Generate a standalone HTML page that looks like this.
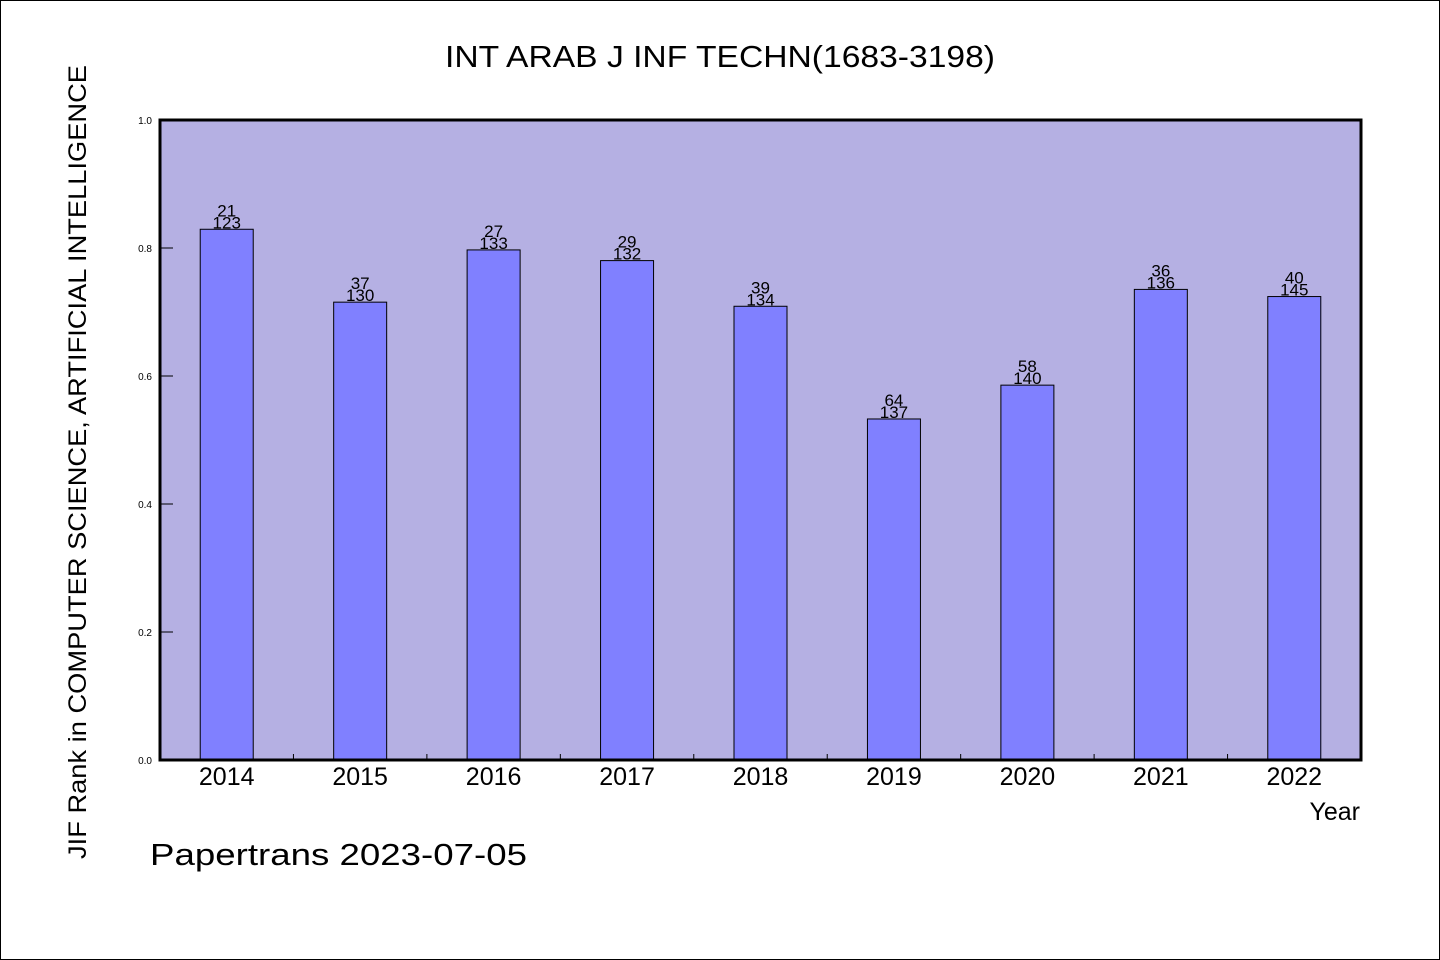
<!DOCTYPE html>
<html><head><meta charset="utf-8"><style>
html,body{margin:0;padding:0;background:#fff}
svg{display:block}
text{font-family:"WenQuanYi Zen Hei","Liberation Sans",sans-serif;fill:#000}
</style></head><body>
<svg width="1440" height="960" xmlns="http://www.w3.org/2000/svg">
<rect x="0.5" y="0.5" width="1439" height="959" fill="#fff" stroke="#000"/>
<text x="720" y="67" font-size="31" text-anchor="middle" textLength="550" lengthAdjust="spacingAndGlyphs">INT ARAB J INF TECHN(1683-3198)</text>
<rect x="160" y="120" width="1201" height="640" fill="#b5b0e3"/>
<g id="ticks"></g>
<g id="bars"></g>
<rect x="160" y="120" width="1201" height="640" fill="none" stroke="#000" stroke-width="3"/>
<text transform="translate(86,462) rotate(-90)" font-size="25" text-anchor="middle" textLength="794" lengthAdjust="spacingAndGlyphs">JIF Rank in COMPUTER SCIENCE, ARTIFICIAL INTELLIGENCE</text>
<text x="1360" y="820" font-size="25" text-anchor="end">Year</text>
<text x="150" y="865" font-size="31" textLength="377" lengthAdjust="spacingAndGlyphs">Papertrans 2023-07-05</text>
</svg>
<script>
const years=["2014","2015","2016","2017","2018","2019","2020","2021","2022"];
const ranks=[21,37,27,29,39,64,58,36,40];
const totals=[123,130,133,132,134,137,140,136,145];
const yTicks=[0.0,0.2,0.4,0.6,0.8,1.0];
const NS="http://www.w3.org/2000/svg";
const X0=160,X1=1361,Y0=760,Y1=120;
const band=(X1-X0)/years.length;
const xc=i=>X0+band*(i+0.5);
const ys=v=>Y0-(Y0-Y1)*v;
function mk(tag,attrs,parent,txt){const e=document.createElementNS(NS,tag);for(const k in attrs)e.setAttribute(k,attrs[k]);if(txt!==undefined)e.textContent=txt;parent.appendChild(e);return e;}
const tg=document.getElementById('ticks'),bg=document.getElementById('bars');
yTicks.forEach(t=>{
  const l=mk('line',{x1:X0,x2:X0+13,y1:ys(t),y2:ys(t),stroke:'#000','stroke-width':1},tg);
  
  
  const tx=mk('text',{x:152,y:ys(t)+4,'font-size':10,'text-anchor':'end'},tg,t.toFixed(1));
  
  
});
for(let i=1;i<years.length;i++){
  const l=mk('line',{x1:X0+band*i,x2:X0+band*i,y1:Y0,y2:Y0-6,stroke:'#000','stroke-width':1},tg);
  
  
}
years.forEach((y,i)=>{
  const v=1-ranks[i]/totals[i];
  const bw=53,top=ys(v);
  const r=mk('rect',{x:xc(i)-bw/2,y:top,width:bw,height:Y0-top,fill:'#8080ff',stroke:'#000','stroke-width':1},bg);
  
  
  const t1=mk('text',{x:xc(i),y:top-13,'font-size':17,'text-anchor':'middle'},bg,String(ranks[i]));
  
  
  const t2=mk('text',{x:xc(i),y:top-1,'font-size':17,'text-anchor':'middle'},bg,String(totals[i]));
  
  
  const xl=mk('text',{x:xc(i),y:785,'font-size':25,'text-anchor':'middle'},bg,y);
  
  
});
</script>
</body></html>
